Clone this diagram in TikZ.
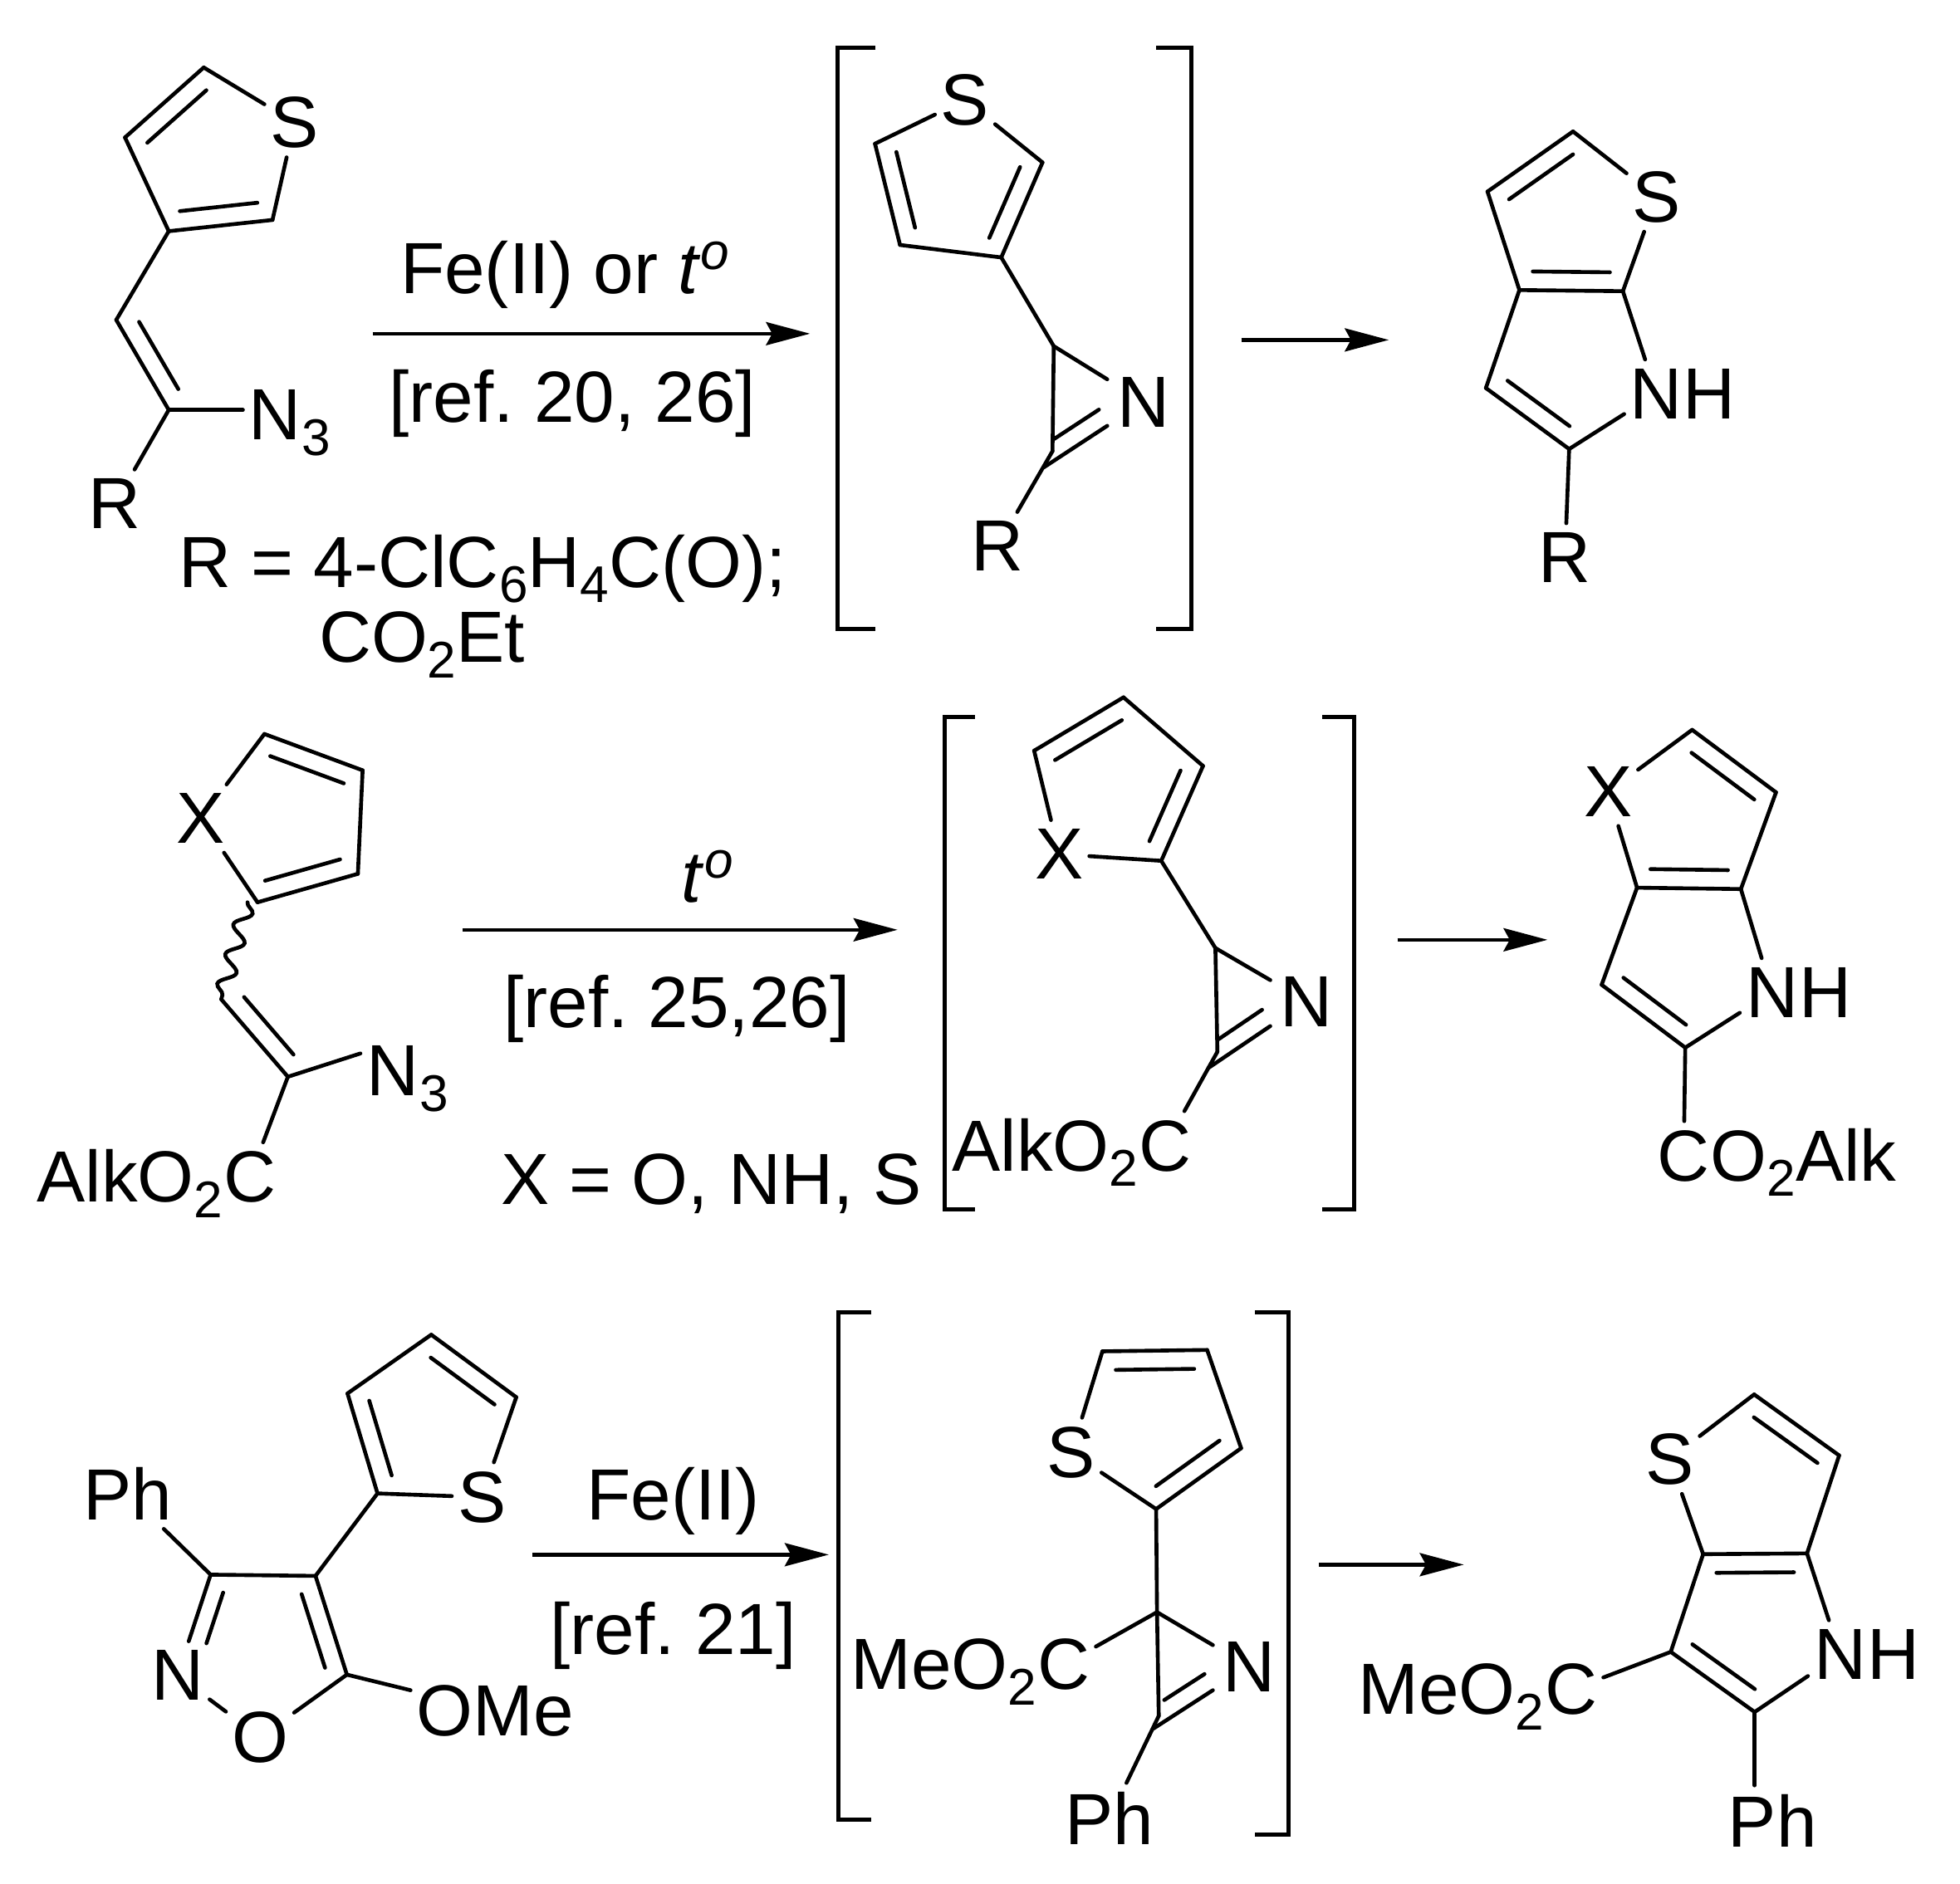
\documentclass[tikz,border=0pt]{standalone}
\usepackage{fontspec}
\setmainfont{Liberation Sans}
\frenchspacing
\usetikzlibrary{calc,positioning,arrows.meta,decorations.pathmorphing}
\tikzset{
  bond/.style={line width=1.75pt, line cap=round},
  bracketline/.style={line width=1.9pt},
  rxnarrow/.style={line width=1.7pt, -{Stealth[length=20pt,width=10.5pt,inset=2.8pt]}},
  atom/.style={inner xsep=2.5pt, inner ysep=4pt, font=\fontsize{33}{36}\selectfont},
  azin/.style={atom, inner xsep=4.5pt},
  tail/.style={inner sep=0pt, font=\fontsize{33}{36}\selectfont},
  txt/.style={inner sep=0pt, anchor=base, font=\fontsize{33}{36}\selectfont},
}
\newcommand{\chemsub}[1]{\raisebox{-7pt}{\fontsize{23.5}{24}\selectfont #1}}
\newcommand{\tdeg}{\textit{t}\raisebox{11pt}{\fontsize{23.5}{24}\selectfont\itshape o}}
% double bond, second line on one side
\newcommand{\dblto}[5]{%
  \draw[bond] (#1) -- (#2);
  \draw[bond, shorten <=#4, shorten >=#5] ($(#1)!#3!90:(#2)$) -- ($(#2)!#3!-90:(#1)$);}
\newcommand{\dbl}[3]{\dblto{#1}{#2}{#3}{6pt}{6pt}}
\newcommand{\ltail}[3]{\node[tail, anchor=base east, xshift=2.5pt] (#1) at (#2.base west) {#3};}
\newcommand{\rtail}[3]{\node[tail, anchor=base west, xshift=-2.5pt] (#1) at (#2.base east) {#3};}

\begin{document}
\begin{tikzpicture}[x=0.02cm, y=-0.02cm]
\useasboundingbox (0,0) rectangle (1568,1507);

% first row
\node[atom] (sA) at (235.6,98) {S};
\coordinate (a1) at (163,54);
\coordinate (a2) at (100,110);
\coordinate (a3) at (135,185);
\coordinate (a4) at (218,176);
\coordinate (a5) at (93,256);
\coordinate (a6) at (135,328);
\node[atom] (nA) at (220,332) {N};
\rtail{nAs}{nA}{\chemsub{3}}
\node[atom] (rA) at (92,403) {R};
\draw[bond] (a1) -- (sA);
\dbl{a1}{a2}{0.3cm}
\draw[bond] (a2) -- (a3);
\dbl{a3}{a4}{0.3cm}
\draw[bond] (a4) -- (sA);
\draw[bond] (a3) -- (a5);
\dbl{a5}{a6}{0.3cm}
\draw[bond] (a6) -- (a6 -| nA.west);
\draw[bond] (a6) -- (rA);
\node[txt] (defR) at (386,470) {R = 4-ClC\chemsub{6}H\chemsub{4}C(O);};
\node[txt] (defRb) at (337.5,530) {CO\chemsub{2}Et};

\coordinate (arA) at (298,267);
\coordinate (arAe) at (648,267);
\draw[rxnarrow] (arA) -- (arAe);
\node[txt] (condA) at (452,235) {Fe(II) or \tdeg};
\node[txt] (refA) at (458,338) {[ref. 20, 26]};

\draw[bracketline] (700,38) -- (670,38) -- (670,503) -- (700,503);
\draw[bracketline] (925,38) -- (953,38) -- (953,503) -- (925,503);

\node[atom] (sB) at (772,80) {S};
\coordinate (b1) at (700,115);
\coordinate (b2) at (720,196);
\coordinate (b3) at (801,206);
\coordinate (b4) at (834,130);
\coordinate (b5) at (843,277);
\coordinate (b6) at (842,361);
\coordinate (b7) at (835,374);
\node[azin] (nB) at (915,321.6) {N};
\node[atom] (rB) at (798,437) {R};
\draw[bond] (sB) -- (b1);
\dbl{b1}{b2}{0.3cm}
\draw[bond] (b2) -- (b3);
\dbl{b3}{b4}{0.3cm}
\draw[bond] (b4) -- (sB);
\draw[bond] (b3) -- (b5);
\draw[bond] (b5) -- (nB);
\draw[bond] (b5) -- (b6);
\dblto{b7}{nB}{0.29cm}{11pt}{19pt}
\draw[bond] (b6) -- (rB);

\coordinate (arB) at (993,272);
\coordinate (arBe) at (1111,272);
\draw[rxnarrow] (arB) -- (arBe);

\node[atom] (sC) at (1325.3,157.5) {S};
\coordinate (c1) at (1258.4,105.2);
\coordinate (c2) at (1190,153.3);
\coordinate (c3) at (1215.5,232.1);
\coordinate (c4) at (1298.3,233);
\coordinate (c5) at (1188.7,310.5);
\coordinate (c6) at (1255.3,359.3);
\node[atom] (nC) at (1325,315) {N};
\rtail{hC}{nC}{H}
\node[atom] (rC) at (1252,446) {R};
\draw[bond] (c1) -- (sC);
\dbl{c1}{c2}{0.3cm}
\draw[bond] (c2) -- (c3);
\dbl{c3}{c4}{0.3cm}
\draw[bond] (c4) -- (sC);
\draw[bond] (c4) -- (nC);
\draw[bond] (c3) -- (c5);
\dbl{c5}{c6}{0.3cm}
\draw[bond] (c6) -- (nC);
\draw[bond] (c6) -- (rC);

% second row
\node[atom] (xD) at (160.8,655) {X};
\coordinate (d1) at (211.5,587.3);
\coordinate (d2) at (290.1,616.4);
\coordinate (d3) at (286.3,699.2);
\coordinate (d4) at (206,722);
\coordinate (d7) at (198,722);
\coordinate (d5) at (177,799.6);
\coordinate (d6) at (230.3,861.6);
\node[atom] (nD) at (314,857) {N};
\rtail{nDs}{nD}{\chemsub{3}}
\node[atom] (cD) at (200,942) {C};
\ltail{cDl}{cD}{AlkO\chemsub{2}}
\draw[bond] (xD) -- (d1);
\dbl{d1}{d2}{-0.3cm}
\draw[bond] (d2) -- (d3);
\dbl{d3}{d4}{-0.3cm}
\draw[bond] (d4) -- (xD);
\draw[bond, decorate, decoration={snake, amplitude=3.6pt, segment length=14pt, pre length=0pt, post length=0pt}] (d7) -- (d5);
\dbl{d5}{d6}{0.3cm}
\draw[bond] (d6) -- ([yshift=8pt]nD.west);
\draw[bond] (d6) -- (cD);

\coordinate (arD) at (370,744);
\coordinate (arDe) at (718,744);
\draw[rxnarrow] (arD) -- (arDe);
\node[txt] (condD) at (566,722) {\tdeg};
\node[txt] (refD) at (541.5,822) {[ref. 25,26]};
\node[txt] (defX) at (569,964) {X = O, NH, S};

\draw[bracketline] (780,574) -- (756,574) -- (756,968) -- (780,968);
\draw[bracketline] (1058,574) -- (1083,574) -- (1083,968) -- (1058,968);

\node[atom] (xE) at (847.4,683.5) {X};
\coordinate (e1) at (827.3,600.7);
\coordinate (e2) at (898.8,558);
\coordinate (e3) at (962.4,612.9);
\coordinate (e4) at (929,688.8);
\coordinate (e5) at (972.3,758.6);
\coordinate (e6) at (973.9,841.6);
\coordinate (e7) at (966.8,854.5);
\node[azin] (nE) at (1045.4,801.3) {N};
\node[atom] (cE) at (932,917) {C};
\ltail{cEl}{cE}{AlkO\chemsub{2}}
\draw[bond] (xE) -- (e1);
\dbl{e1}{e2}{-0.3cm}
\draw[bond] (e2) -- (e3);
\dbl{e3}{e4}{-0.3cm}
\draw[bond] (e4) -- (xE);
\draw[bond] (e4) -- (e5);
\draw[bond] (e5) -- (nE);
\draw[bond] (e5) -- (e6);
\dblto{e7}{nE}{0.29cm}{11pt}{19pt}
\draw[bond] (e6) -- (cE);

\coordinate (arE) at (1118,752);
\coordinate (arEe) at (1238,752);
\draw[rxnarrow] (arE) -- (arEe);

\node[atom] (xF) at (1286.4,633.6) {X};
\coordinate (f1) at (1353.7,584);
\coordinate (f2) at (1420.8,634);
\coordinate (f3) at (1392.7,711.4);
\coordinate (f4) at (1309.6,710.3);
\coordinate (f5) at (1281.3,788);
\coordinate (f6) at (1348.2,838.3);
\node[atom] (nF) at (1417.5,794) {N};
\rtail{hF}{nF}{H}
\node[atom] (cF) at (1347,925) {C};
\rtail{cFr}{cF}{O\chemsub{2}Alk}
\draw[bond] (xF) -- (f1);
\dbl{f1}{f2}{-0.3cm}
\draw[bond] (f2) -- (f3);
\dbl{f3}{f4}{-0.3cm}
\draw[bond] (f4) -- (xF);
\draw[bond] (f3) -- (nF);
\draw[bond] (f4) -- (f5);
\dbl{f5}{f6}{0.3cm}
\draw[bond] (f6) -- (nF);
\draw[bond] (f6) -- (cF);

% third row
\node[atom] (phG) at (102,1195) {Ph};
\coordinate (g1) at (168.5,1260);
\node[atom] (nG) at (142,1340.6) {N};
\node[atom] (oG) at (208,1390) {O};
\coordinate (g2) at (277.5,1340);
\coordinate (g3) at (252.4,1261);
\node[atom] (omeG) at (396,1369) {OMe};
\coordinate (g4) at (302,1195);
\coordinate (g5) at (278,1115);
\coordinate (g6) at (345,1068);
\coordinate (g7) at (413,1118);
\node[atom] (sG) at (385.5,1198) {S};
\draw[bond] (phG) -- (g1);
\dblto{g1}{nG}{0.28cm}{6pt}{18pt}
\draw[bond] (nG) -- (oG);
\draw[bond] (oG) -- (g2);
\dbl{g2}{g3}{0.3cm}
\draw[bond] (g3) -- (g1);
\draw[bond] (g2) -- (omeG);
\draw[bond] (g3) -- (g4);
\dbl{g4}{g5}{-0.3cm}
\draw[bond] (g5) -- (g6);
\dbl{g6}{g7}{-0.3cm}
\draw[bond] (g7) -- (sG);
\draw[bond] (sG) -- (g4);

\coordinate (arG) at (426,1244);
\coordinate (arGe) at (663,1244);
\draw[rxnarrow] (arG) -- (arGe);
\node[txt] (condG) at (538.5,1216) {Fe(II)};
\node[txt] (refG) at (538.5,1324) {[ref. 21]};

\draw[bracketline] (697,1050) -- (671,1050) -- (671,1456) -- (697,1456);
\draw[bracketline] (1004,1050) -- (1031,1050) -- (1031,1468) -- (1004,1468);

\node[atom] (sH) at (857.1,1162.3) {S};
\coordinate (h1) at (881.9,1081.3);
\coordinate (h2) at (965.7,1080.2);
\coordinate (h3) at (992.9,1158.8);
\coordinate (h4) at (924.9,1207.5);
\coordinate (h5) at (925.6,1290);
\coordinate (h6) at (927,1373);
\coordinate (h7) at (923,1383);
\node[azin] (nH) at (999.5,1333.6) {N};
\node[atom] (cH) at (851,1332) {C};
\ltail{cHl}{cH}{MeO\chemsub{2}}
\node[atom] (phH) at (887.5,1455) {Ph};
\draw[bond] (sH) -- (h1);
\dbl{h1}{h2}{-0.3cm}
\draw[bond] (h2) -- (h3);
\dbl{h3}{h4}{-0.3cm}
\draw[bond] (h4) -- (sH);
\draw[bond] (h4) -- (h5);
\draw[bond] (h5) -- (nH);
\draw[bond] (h5) -- (h6);
\dblto{h7}{nH}{0.29cm}{11pt}{19pt}
\draw[bond] (h5) -- (cH);
\draw[bond] (h6) -- (phH);

\coordinate (arH) at (1055,1252);
\coordinate (arHe) at (1171,1252);
\draw[rxnarrow] (arH) -- (arHe);

\node[atom] (sI) at (1335.7,1167.5) {S};
\coordinate (i1) at (1403.3,1115.8);
\coordinate (i2) at (1471.3,1164.6);
\coordinate (i3) at (1445.6,1243);
\coordinate (i4) at (1362.5,1243.6);
\coordinate (i5) at (1336.6,1321.8);
\coordinate (i6) at (1403.7,1369.9);
\node[atom] (nI) at (1472,1323.8) {N};
\rtail{hI}{nI}{H}
\node[atom] (cI) at (1257,1352) {C};
\ltail{cIl}{cI}{MeO\chemsub{2}}
\node[atom] (phI) at (1418,1457) {Ph};
\draw[bond] (sI) -- (i1);
\dbl{i1}{i2}{-0.3cm}
\draw[bond] (i2) -- (i3);
\dbl{i3}{i4}{0.3cm}
\draw[bond] (i4) -- (sI);
\draw[bond] (i3) -- (nI);
\draw[bond] (i4) -- (i5);
\dbl{i5}{i6}{0.3cm}
\draw[bond] (i6) -- (nI);
\draw[bond] (i5) -- (cI);
\draw[bond] (i6) -- (i6 |- phI.north);
\end{tikzpicture}
\end{document}
